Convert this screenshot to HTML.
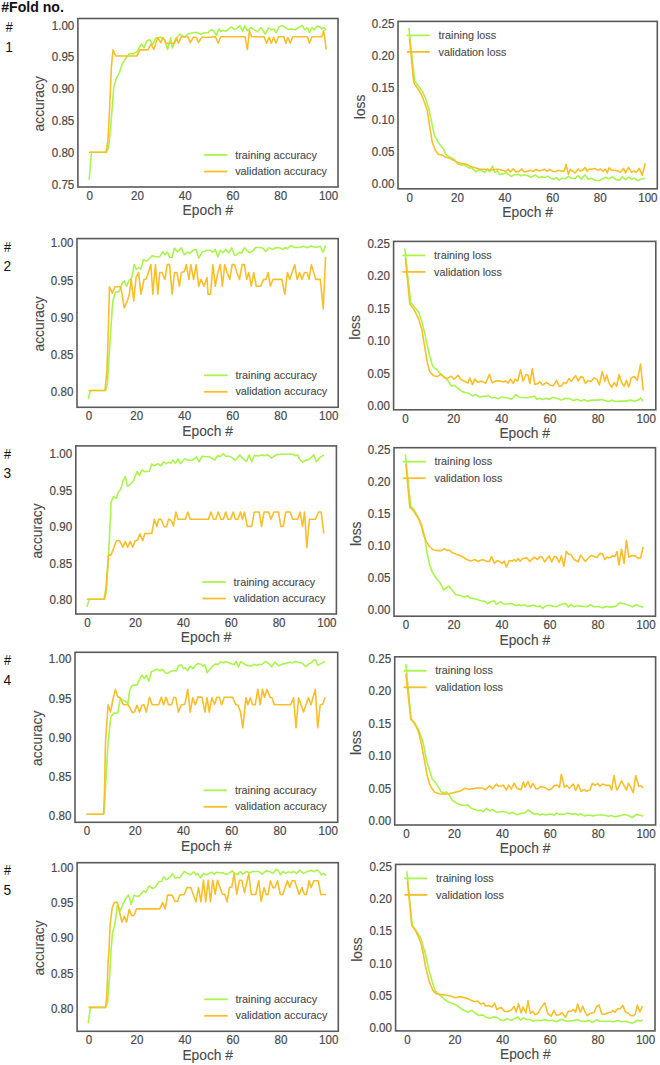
<!DOCTYPE html><html><head><meta charset="utf-8"><style>html,body{margin:0;padding:0;background:#fff;}svg{display:block}</style></head><body>
<svg width="660" height="1065" viewBox="0 0 660 1065" font-family='"Liberation Sans", sans-serif'>
<rect width="660" height="1065" fill="#fff"/>
<text x="1.2" y="11.7" font-size="14.1" font-weight="bold" fill="#111">#Fold no.</text>
<text transform="translate(5.7,32.1) scale(0.86,0.96)" font-size="14.8" fill="#111">#</text>
<text transform="translate(5.3,52.3) scale(0.93,1.05)" font-size="14.8" fill="#111">1</text>
<text transform="translate(4.0,251.6) scale(0.86,0.96)" font-size="14.8" fill="#111">#</text>
<text transform="translate(3.6,271.4) scale(0.93,1.05)" font-size="14.8" fill="#111">2</text>
<text transform="translate(4.0,458.6) scale(0.86,0.96)" font-size="14.8" fill="#111">#</text>
<text transform="translate(3.6,478.4) scale(0.93,1.05)" font-size="14.8" fill="#111">3</text>
<text transform="translate(4.0,665.4) scale(0.86,0.96)" font-size="14.8" fill="#111">#</text>
<text transform="translate(3.6,685.1) scale(0.93,1.05)" font-size="14.8" fill="#111">4</text>
<text transform="translate(4.0,874.5) scale(0.86,0.96)" font-size="14.8" fill="#111">#</text>
<text transform="translate(3.6,894.5) scale(0.93,1.05)" font-size="14.8" fill="#111">5</text>
<clipPath id="cL1"><rect x="77.9" y="18.5" width="260.1" height="168.5"/></clipPath>
<polyline clip-path="url(#cL1)" fill="none" stroke="#a9f54c" stroke-width="1.6" stroke-linejoin="round" points="89.2,179.8 91.4,152.2 106.6,152.2 108.5,147.3 110.5,129.5 111.9,111.8 113.8,87.0 116.4,78.1 119.4,72.8 122.3,63.7 126.3,57.8 129.6,53.5 133.5,53.9 137.1,51.5 141.4,44.0 144.0,47.6 146.9,40.7 149.9,39.7 152.5,45.2 155.8,38.1 160.7,37.3 164.7,39.7 167.6,49.5 170.6,37.7 172.5,48.0 175.5,38.7 180.0,34.2 184.4,37.3 188.3,33.8 195.8,32.2 201.1,34.2 204.1,32.8 208.0,32.8 211.0,29.8 213.9,30.8 216.3,35.4 218.8,28.9 220.8,31.4 223.4,30.2 225.7,31.4 228.7,28.9 231.6,26.9 234.6,29.8 237.5,27.9 239.9,25.5 242.5,31.4 244.8,25.9 247.4,30.8 250.9,27.5 254.3,29.8 257.2,31.8 261.2,27.5 265.1,34.2 268.7,27.9 271.4,29.8 274.0,28.9 276.0,32.8 278.9,26.9 282.5,25.5 285.8,27.9 288.8,29.5 291.7,28.9 294.7,29.8 298.6,27.5 302.2,25.5 304.9,29.8 307.5,27.5 309.4,32.8 312.0,27.5 314.4,29.8 317.3,25.9 319.9,26.9 321.8,28.9 323.8,27.5 326.2,30.2"/>
<polyline clip-path="url(#cL1)" fill="none" stroke="#f9bf2a" stroke-width="1.6" stroke-linejoin="round" points="88.8,152.2 106.0,152.2 107.9,141.4 109.1,119.7 111.5,65.3 113.1,49.9 115.8,56.0 136.7,56.0 140.0,49.9 147.9,49.9 150.9,44.0 153.8,49.5 157.8,37.7 160.7,42.6 163.1,37.7 166.0,43.2 174.5,43.2 176.5,38.1 178.5,43.2 181.4,36.7 187.9,36.7 190.3,42.6 193.2,37.3 196.2,37.3 198.5,42.6 201.7,37.3 208.0,37.3 215.5,36.7 218.2,43.2 220.8,36.7 245.0,36.7 247.4,49.5 249.4,30.8 251.7,36.7 264.1,36.7 266.5,43.2 269.1,37.3 271.4,43.2 273.6,37.3 276.0,43.2 278.5,36.7 283.8,36.7 285.8,43.2 287.8,37.3 290.3,43.2 292.7,36.7 307.5,36.7 309.4,43.2 312.0,36.7 321.8,36.7 323.8,30.8 326.2,49.5"/>
<rect x="77.9" y="18.5" width="260.1" height="168.5" fill="none" stroke="#5a5a5a" stroke-width="1.6"/>
<text transform="translate(74.3,184.6) scale(1,1.1)" y="4.15" font-size="11.6" fill="#4a4a4a" stroke="#4a4a4a" stroke-width="0.2" text-anchor="end">0.75</text>
<text transform="translate(74.3,152.7) scale(1,1.1)" y="4.15" font-size="11.6" fill="#4a4a4a" stroke="#4a4a4a" stroke-width="0.2" text-anchor="end">0.80</text>
<text transform="translate(74.3,120.8) scale(1,1.1)" y="4.15" font-size="11.6" fill="#4a4a4a" stroke="#4a4a4a" stroke-width="0.2" text-anchor="end">0.85</text>
<text transform="translate(74.3,88.8) scale(1,1.1)" y="4.15" font-size="11.6" fill="#4a4a4a" stroke="#4a4a4a" stroke-width="0.2" text-anchor="end">0.90</text>
<text transform="translate(74.3,56.9) scale(1,1.1)" y="4.15" font-size="11.6" fill="#4a4a4a" stroke="#4a4a4a" stroke-width="0.2" text-anchor="end">0.95</text>
<text transform="translate(74.3,25.0) scale(1,1.1)" y="4.15" font-size="11.6" fill="#4a4a4a" stroke="#4a4a4a" stroke-width="0.2" text-anchor="end">1.00</text>
<text transform="translate(89.7,195.3) scale(1,1.1)" y="4.15" font-size="11.6" fill="#4a4a4a" stroke="#4a4a4a" stroke-width="0.2" text-anchor="middle">0</text>
<text transform="translate(137.5,195.3) scale(1,1.1)" y="4.15" font-size="11.6" fill="#4a4a4a" stroke="#4a4a4a" stroke-width="0.2" text-anchor="middle">20</text>
<text transform="translate(185.3,195.3) scale(1,1.1)" y="4.15" font-size="11.6" fill="#4a4a4a" stroke="#4a4a4a" stroke-width="0.2" text-anchor="middle">40</text>
<text transform="translate(233.0,195.3) scale(1,1.1)" y="4.15" font-size="11.6" fill="#4a4a4a" stroke="#4a4a4a" stroke-width="0.2" text-anchor="middle">60</text>
<text transform="translate(280.8,195.3) scale(1,1.1)" y="4.15" font-size="11.6" fill="#4a4a4a" stroke="#4a4a4a" stroke-width="0.2" text-anchor="middle">80</text>
<text transform="translate(328.6,195.3) scale(1,1.1)" y="4.15" font-size="11.6" fill="#4a4a4a" stroke="#4a4a4a" stroke-width="0.2" text-anchor="middle">100</text>
<text x="207.9" y="215.4" font-size="13.8" fill="#4a4a4a" stroke="#4a4a4a" stroke-width="0.12" text-anchor="middle">Epoch #</text>
<text transform="translate(44.4,103.8) rotate(-90)" font-size="13.8" fill="#4a4a4a" stroke="#4a4a4a" stroke-width="0.12" text-anchor="middle">accuracy</text>
<line x1="203.9" y1="155.0" x2="227.4" y2="155.0" stroke="#a9f54c" stroke-width="1.8"/>
<line x1="203.9" y1="171.5" x2="227.4" y2="171.5" stroke="#f9bf2a" stroke-width="1.8"/>
<text x="235.2" y="158.6" font-size="10.8" fill="#4a4a4a" stroke="#4a4a4a" stroke-width="0.12">training accuracy</text>
<text x="235.2" y="175.1" font-size="10.8" fill="#4a4a4a" stroke="#4a4a4a" stroke-width="0.12">validation accuracy</text>
<clipPath id="cR1"><rect x="398.0" y="21.4" width="259.29999999999995" height="167.4"/></clipPath>
<polyline clip-path="url(#cR1)" fill="none" stroke="#a9f54c" stroke-width="1.6" stroke-linejoin="round" points="408.8,27.9 414.7,81.1 417.7,85.0 422.6,91.9 425.6,98.8 429.1,110.0 431.5,121.7 434.4,135.4 437.4,140.4 440.3,145.3 442.9,148.2 445.7,154.2 448.2,156.1 452.2,158.1 455.1,160.1 457.1,163.4 461.0,165.0 465.0,165.0 468.9,167.9 471.9,167.9 475.8,171.9 478.8,169.9 481.7,170.5 484.7,172.5 487.6,168.9 489.6,171.9 492.5,166.0 494.9,172.5 497.5,170.9 499.4,174.4 503.4,173.9 506.3,172.5 508.3,174.4 511.3,176.4 514.2,174.8 518.2,174.4 521.1,175.8 524.1,174.8 528.0,175.8 531.0,177.2 535.5,174.9 538.8,177.6 541.8,176.8 544.7,177.6 547.7,176.2 550.7,178.2 553.6,179.2 556.6,177.6 559.1,180.2 561.9,178.2 565.4,178.8 568.4,176.2 571.3,178.2 575.3,178.2 578.2,175.6 581.2,179.2 585.1,174.9 588.1,179.2 591.0,178.2 595.0,180.2 598.9,180.8 601.9,179.2 605.8,177.2 608.8,178.8 612.7,176.8 615.7,179.6 619.6,180.2 622.5,176.8 625.5,179.6 628.5,177.2 631.4,179.2 634.4,178.2 637.3,180.8 641.3,179.2 645.2,178.2"/>
<polyline clip-path="url(#cR1)" fill="none" stroke="#f9bf2a" stroke-width="1.6" stroke-linejoin="round" points="409.4,37.7 413.8,82.6 416.7,87.0 421.6,94.8 424.6,102.7 427.2,110.0 429.5,125.6 432.5,143.3 435.4,150.2 438.4,154.2 442.3,155.1 445.3,157.1 449.2,158.1 453.2,160.1 457.1,162.0 461.0,163.4 466.0,164.0 470.9,166.6 475.8,167.9 479.7,169.3 484.7,169.3 488.6,169.9 492.5,169.9 496.5,169.3 501.4,169.9 505.3,171.3 508.3,169.3 510.3,171.9 513.2,168.9 516.2,171.9 519.1,171.3 521.7,168.9 524.1,171.9 528.0,170.9 531.0,170.3 532.9,171.7 535.9,169.3 538.8,170.9 541.8,170.3 544.7,169.3 546.7,171.3 549.7,169.3 552.6,171.3 555.6,171.7 558.5,170.3 561.5,171.3 564.4,170.9 566.0,164.4 568.4,174.3 570.3,169.3 572.9,171.3 575.3,172.9 578.2,169.0 580.2,170.9 582.8,170.3 585.1,167.4 587.1,171.3 589.1,169.0 592.0,169.3 595.0,168.4 597.9,170.3 600.5,169.0 602.8,171.3 605.2,169.0 607.2,172.9 609.2,167.8 611.7,170.3 614.7,170.3 617.6,170.9 620.6,172.3 623.5,168.4 625.5,172.9 628.5,167.4 631.4,172.3 634.0,170.9 636.3,172.3 639.3,168.4 642.2,175.2 645.2,163.4"/>
<rect x="398.0" y="21.4" width="259.3" height="167.4" fill="none" stroke="#5a5a5a" stroke-width="1.6"/>
<text transform="translate(394.4,183.2) scale(1,1.1)" y="4.15" font-size="11.6" fill="#4a4a4a" stroke="#4a4a4a" stroke-width="0.2" text-anchor="end">0.00</text>
<text transform="translate(394.4,151.3) scale(1,1.1)" y="4.15" font-size="11.6" fill="#4a4a4a" stroke="#4a4a4a" stroke-width="0.2" text-anchor="end">0.05</text>
<text transform="translate(394.4,119.4) scale(1,1.1)" y="4.15" font-size="11.6" fill="#4a4a4a" stroke="#4a4a4a" stroke-width="0.2" text-anchor="end">0.10</text>
<text transform="translate(394.4,87.5) scale(1,1.1)" y="4.15" font-size="11.6" fill="#4a4a4a" stroke="#4a4a4a" stroke-width="0.2" text-anchor="end">0.15</text>
<text transform="translate(394.4,55.6) scale(1,1.1)" y="4.15" font-size="11.6" fill="#4a4a4a" stroke="#4a4a4a" stroke-width="0.2" text-anchor="end">0.20</text>
<text transform="translate(394.4,23.8) scale(1,1.1)" y="4.15" font-size="11.6" fill="#4a4a4a" stroke="#4a4a4a" stroke-width="0.2" text-anchor="end">0.25</text>
<text transform="translate(409.8,197.1) scale(1,1.1)" y="4.15" font-size="11.6" fill="#4a4a4a" stroke="#4a4a4a" stroke-width="0.2" text-anchor="middle">0</text>
<text transform="translate(457.4,197.1) scale(1,1.1)" y="4.15" font-size="11.6" fill="#4a4a4a" stroke="#4a4a4a" stroke-width="0.2" text-anchor="middle">20</text>
<text transform="translate(505.0,197.1) scale(1,1.1)" y="4.15" font-size="11.6" fill="#4a4a4a" stroke="#4a4a4a" stroke-width="0.2" text-anchor="middle">40</text>
<text transform="translate(552.7,197.1) scale(1,1.1)" y="4.15" font-size="11.6" fill="#4a4a4a" stroke="#4a4a4a" stroke-width="0.2" text-anchor="middle">60</text>
<text transform="translate(600.3,197.1) scale(1,1.1)" y="4.15" font-size="11.6" fill="#4a4a4a" stroke="#4a4a4a" stroke-width="0.2" text-anchor="middle">80</text>
<text transform="translate(647.9,197.1) scale(1,1.1)" y="4.15" font-size="11.6" fill="#4a4a4a" stroke="#4a4a4a" stroke-width="0.2" text-anchor="middle">100</text>
<text x="527.6" y="217.2" font-size="13.8" fill="#4a4a4a" stroke="#4a4a4a" stroke-width="0.12" text-anchor="middle">Epoch #</text>
<text transform="translate(364.5,106.9) rotate(-90)" font-size="13.8" fill="#4a4a4a" stroke="#4a4a4a" stroke-width="0.12" text-anchor="middle">loss</text>
<line x1="406.8" y1="35.4" x2="429.8" y2="35.4" stroke="#a9f54c" stroke-width="1.8"/>
<line x1="406.8" y1="51.9" x2="429.8" y2="51.9" stroke="#f9bf2a" stroke-width="1.8"/>
<text x="438.5" y="39.0" font-size="10.8" fill="#4a4a4a" stroke="#4a4a4a" stroke-width="0.12">training loss</text>
<text x="438.5" y="55.5" font-size="10.8" fill="#4a4a4a" stroke="#4a4a4a" stroke-width="0.12">validation loss</text>
<clipPath id="cL2"><rect x="77.0" y="238.6" width="261.2" height="168.70000000000002"/></clipPath>
<polyline clip-path="url(#cL2)" fill="none" stroke="#a9f54c" stroke-width="1.6" stroke-linejoin="round" points="88.2,399.1 90.4,390.5 105.6,390.5 107.5,383.0 109.5,349.5 110.9,327.8 112.8,301.0 115.4,292.2 119.3,291.6 122.3,283.3 124.3,280.9 126.6,286.2 129.2,280.3 131.8,277.4 134.1,264.6 136.5,269.5 139.0,267.5 141.0,269.1 143.4,259.3 146.3,261.2 148.3,259.7 152.2,255.7 155.8,256.7 159.7,256.7 162.7,251.8 165.0,254.7 167.6,252.2 169.6,257.3 172.1,257.3 174.5,248.2 177.5,251.8 181.4,247.8 184.3,254.7 187.3,252.2 189.7,253.4 193.2,250.2 196.2,249.4 198.7,258.1 202.1,252.2 207.0,250.2 210.0,250.2 212.9,252.2 215.3,249.4 217.8,256.7 220.4,250.2 222.8,252.8 225.7,249.4 228.7,252.8 231.6,247.8 234.6,255.3 236.9,254.7 239.5,252.2 241.5,253.4 244.4,247.8 246.4,249.8 249.3,252.8 252.3,251.4 255.8,247.5 260.2,247.5 263.1,248.2 265.7,251.4 269.0,247.8 273.0,249.4 275.9,247.5 279.5,247.8 282.8,249.4 285.4,247.5 287.4,248.8 290.7,245.5 294.7,247.5 299.6,247.5 303.5,246.3 307.5,247.8 311.4,245.9 315.3,247.5 320.3,246.3 323.2,252.2 325.6,245.5"/>
<polyline clip-path="url(#cL2)" fill="none" stroke="#f9bf2a" stroke-width="1.6" stroke-linejoin="round" points="88.4,390.5 105.0,390.5 106.9,371.2 108.1,337.7 109.5,286.8 112.5,293.1 114.8,286.8 120.7,286.8 124.3,307.9 127.2,301.0 129.2,295.1 131.2,279.4 133.7,301.0 136.1,277.4 138.5,272.5 141.0,294.1 144.0,279.4 146.3,279.0 150.9,264.6 152.8,294.1 155.4,264.6 157.8,294.1 159.7,272.5 162.1,272.5 165.0,279.4 167.2,264.6 169.6,264.6 172.1,294.1 174.5,272.5 176.9,272.5 179.4,286.2 181.4,272.5 184.3,271.5 186.3,264.6 188.9,279.4 190.8,264.6 193.6,279.4 196.2,264.6 198.7,286.2 201.1,279.4 204.0,286.2 207.0,277.4 208.0,294.1 210.5,294.1 212.9,264.6 215.3,286.2 217.8,272.5 220.2,264.6 222.4,286.2 224.7,264.6 227.1,272.5 229.7,279.4 232.2,264.6 234.6,264.6 236.9,272.5 239.5,279.4 242.1,264.6 244.4,264.6 246.8,279.4 248.8,272.5 251.3,286.2 253.7,272.5 256.2,286.2 260.6,286.2 263.7,279.4 266.1,279.4 268.1,272.5 270.4,286.2 273.0,279.4 281.8,279.4 284.8,294.1 287.4,272.5 289.7,279.4 294.7,264.6 297.2,279.4 299.6,272.5 301.9,279.4 304.5,272.5 307.1,272.5 309.0,279.4 311.4,264.6 315.7,279.4 320.3,279.4 323.2,308.9 325.6,256.7"/>
<rect x="77.0" y="238.6" width="261.2" height="168.7" fill="none" stroke="#5a5a5a" stroke-width="1.6"/>
<text transform="translate(73.4,391.2) scale(1,1.1)" y="4.15" font-size="11.6" fill="#4a4a4a" stroke="#4a4a4a" stroke-width="0.2" text-anchor="end">0.80</text>
<text transform="translate(73.4,354.1) scale(1,1.1)" y="4.15" font-size="11.6" fill="#4a4a4a" stroke="#4a4a4a" stroke-width="0.2" text-anchor="end">0.85</text>
<text transform="translate(73.4,317.1) scale(1,1.1)" y="4.15" font-size="11.6" fill="#4a4a4a" stroke="#4a4a4a" stroke-width="0.2" text-anchor="end">0.90</text>
<text transform="translate(73.4,280.0) scale(1,1.1)" y="4.15" font-size="11.6" fill="#4a4a4a" stroke="#4a4a4a" stroke-width="0.2" text-anchor="end">0.95</text>
<text transform="translate(73.4,242.9) scale(1,1.1)" y="4.15" font-size="11.6" fill="#4a4a4a" stroke="#4a4a4a" stroke-width="0.2" text-anchor="end">1.00</text>
<text transform="translate(88.9,415.6) scale(1,1.1)" y="4.15" font-size="11.6" fill="#4a4a4a" stroke="#4a4a4a" stroke-width="0.2" text-anchor="middle">0</text>
<text transform="translate(136.8,415.6) scale(1,1.1)" y="4.15" font-size="11.6" fill="#4a4a4a" stroke="#4a4a4a" stroke-width="0.2" text-anchor="middle">20</text>
<text transform="translate(184.8,415.6) scale(1,1.1)" y="4.15" font-size="11.6" fill="#4a4a4a" stroke="#4a4a4a" stroke-width="0.2" text-anchor="middle">40</text>
<text transform="translate(232.8,415.6) scale(1,1.1)" y="4.15" font-size="11.6" fill="#4a4a4a" stroke="#4a4a4a" stroke-width="0.2" text-anchor="middle">60</text>
<text transform="translate(280.8,415.6) scale(1,1.1)" y="4.15" font-size="11.6" fill="#4a4a4a" stroke="#4a4a4a" stroke-width="0.2" text-anchor="middle">80</text>
<text transform="translate(328.7,415.6) scale(1,1.1)" y="4.15" font-size="11.6" fill="#4a4a4a" stroke="#4a4a4a" stroke-width="0.2" text-anchor="middle">100</text>
<text x="207.6" y="435.7" font-size="13.8" fill="#4a4a4a" stroke="#4a4a4a" stroke-width="0.12" text-anchor="middle">Epoch #</text>
<text transform="translate(43.5,323.9) rotate(-90)" font-size="13.8" fill="#4a4a4a" stroke="#4a4a4a" stroke-width="0.12" text-anchor="middle">accuracy</text>
<line x1="204.1" y1="375.3" x2="227.6" y2="375.3" stroke="#a9f54c" stroke-width="1.8"/>
<line x1="204.1" y1="391.8" x2="227.6" y2="391.8" stroke="#f9bf2a" stroke-width="1.8"/>
<text x="235.4" y="378.9" font-size="10.8" fill="#4a4a4a" stroke="#4a4a4a" stroke-width="0.12">training accuracy</text>
<text x="235.4" y="395.4" font-size="10.8" fill="#4a4a4a" stroke="#4a4a4a" stroke-width="0.12">validation accuracy</text>
<clipPath id="cR2"><rect x="393.6" y="241.4" width="262.19999999999993" height="168.4"/></clipPath>
<polyline clip-path="url(#cR2)" fill="none" stroke="#a9f54c" stroke-width="1.6" stroke-linejoin="round" points="404.8,248.3 410.7,302.6 413.7,306.0 418.6,311.9 421.6,320.7 423.9,330.1 426.5,341.7 429.5,355.5 432.4,365.3 434.4,368.3 436.3,368.9 438.9,372.2 442.3,375.2 445.6,378.1 448.2,381.1 451.1,386.0 454.1,385.4 457.0,387.4 461.0,390.9 464.9,392.5 468.8,393.3 472.8,395.9 475.7,394.5 479.7,397.2 482.6,396.4 485.6,396.4 488.2,395.3 491.5,397.8 495.4,397.8 498.4,398.8 501.3,396.8 504.3,397.8 507.3,397.8 511.2,399.2 513.2,397.8 515.7,394.5 519.1,397.2 524.0,397.8 527.9,397.6 531.9,396.8 534.8,396.2 536.8,399.2 539.8,398.2 542.7,399.5 546.7,398.2 549.2,399.5 552.6,397.2 556.5,398.2 561.4,400.1 565.4,398.2 570.3,398.8 573.2,400.7 577.2,399.2 581.1,401.1 584.1,399.5 587.0,401.1 592.0,400.1 597.9,400.1 601.8,399.5 605.7,400.7 609.1,401.5 611.7,400.1 615.6,401.5 620.5,401.1 625.4,401.1 630.4,400.1 635.3,401.1 638.2,400.1 640.6,398.2 643.2,401.1"/>
<polyline clip-path="url(#cR2)" fill="none" stroke="#f9bf2a" stroke-width="1.6" stroke-linejoin="round" points="405.4,257.7 409.8,304.0 413.7,308.9 418.6,318.8 422.0,330.1 424.5,345.6 427.1,361.4 429.5,371.2 433.4,375.6 437.3,376.7 440.9,374.2 444.2,377.5 447.2,378.7 451.1,376.2 454.1,379.1 458.0,375.2 461.0,379.5 464.9,381.5 467.9,383.1 469.8,378.1 472.4,384.6 474.8,379.1 477.7,382.1 481.7,381.1 485.6,383.4 489.5,374.2 492.1,382.7 496.4,380.7 500.4,381.1 503.3,382.1 505.9,381.1 508.2,383.1 510.6,379.1 513.2,383.4 515.1,379.1 517.7,381.1 520.5,369.7 523.0,381.1 526.0,374.5 527.9,375.1 529.9,383.4 532.3,368.6 534.8,384.4 537.4,383.8 539.8,381.8 542.7,385.0 546.7,382.4 549.6,385.0 553.5,385.7 556.5,380.4 559.1,386.3 561.4,386.3 563.8,382.4 566.3,383.4 568.9,378.5 571.3,381.4 575.6,375.5 578.2,381.0 580.7,376.5 583.1,377.5 585.5,383.4 588.0,380.4 591.0,381.8 593.9,377.9 596.9,379.4 599.4,385.0 602.2,371.5 604.8,381.4 606.7,375.1 609.1,383.4 611.7,387.3 614.2,382.4 616.6,386.3 619.1,374.5 621.5,382.4 624.1,386.3 626.4,380.4 628.8,386.9 631.3,377.9 634.3,376.5 637.3,380.4 640.6,364.1 643.2,390.3"/>
<rect x="393.6" y="241.4" width="262.2" height="168.4" fill="none" stroke="#5a5a5a" stroke-width="1.6"/>
<text transform="translate(390.0,405.9) scale(1,1.1)" y="4.15" font-size="11.6" fill="#4a4a4a" stroke="#4a4a4a" stroke-width="0.2" text-anchor="end">0.00</text>
<text transform="translate(390.0,373.4) scale(1,1.1)" y="4.15" font-size="11.6" fill="#4a4a4a" stroke="#4a4a4a" stroke-width="0.2" text-anchor="end">0.05</text>
<text transform="translate(390.0,340.9) scale(1,1.1)" y="4.15" font-size="11.6" fill="#4a4a4a" stroke="#4a4a4a" stroke-width="0.2" text-anchor="end">0.10</text>
<text transform="translate(390.0,308.4) scale(1,1.1)" y="4.15" font-size="11.6" fill="#4a4a4a" stroke="#4a4a4a" stroke-width="0.2" text-anchor="end">0.15</text>
<text transform="translate(390.0,275.9) scale(1,1.1)" y="4.15" font-size="11.6" fill="#4a4a4a" stroke="#4a4a4a" stroke-width="0.2" text-anchor="end">0.20</text>
<text transform="translate(390.0,243.4) scale(1,1.1)" y="4.15" font-size="11.6" fill="#4a4a4a" stroke="#4a4a4a" stroke-width="0.2" text-anchor="end">0.25</text>
<text transform="translate(405.5,418.1) scale(1,1.1)" y="4.15" font-size="11.6" fill="#4a4a4a" stroke="#4a4a4a" stroke-width="0.2" text-anchor="middle">0</text>
<text transform="translate(453.7,418.1) scale(1,1.1)" y="4.15" font-size="11.6" fill="#4a4a4a" stroke="#4a4a4a" stroke-width="0.2" text-anchor="middle">20</text>
<text transform="translate(501.8,418.1) scale(1,1.1)" y="4.15" font-size="11.6" fill="#4a4a4a" stroke="#4a4a4a" stroke-width="0.2" text-anchor="middle">40</text>
<text transform="translate(550.0,418.1) scale(1,1.1)" y="4.15" font-size="11.6" fill="#4a4a4a" stroke="#4a4a4a" stroke-width="0.2" text-anchor="middle">60</text>
<text transform="translate(598.1,418.1) scale(1,1.1)" y="4.15" font-size="11.6" fill="#4a4a4a" stroke="#4a4a4a" stroke-width="0.2" text-anchor="middle">80</text>
<text transform="translate(646.3,418.1) scale(1,1.1)" y="4.15" font-size="11.6" fill="#4a4a4a" stroke="#4a4a4a" stroke-width="0.2" text-anchor="middle">100</text>
<text x="524.7" y="438.2" font-size="13.8" fill="#4a4a4a" stroke="#4a4a4a" stroke-width="0.12" text-anchor="middle">Epoch #</text>
<text transform="translate(360.1,327.4) rotate(-90)" font-size="13.8" fill="#4a4a4a" stroke="#4a4a4a" stroke-width="0.12" text-anchor="middle">loss</text>
<line x1="402.4" y1="255.4" x2="425.4" y2="255.4" stroke="#a9f54c" stroke-width="1.8"/>
<line x1="402.4" y1="271.9" x2="425.4" y2="271.9" stroke="#f9bf2a" stroke-width="1.8"/>
<text x="434.1" y="259.0" font-size="10.8" fill="#4a4a4a" stroke="#4a4a4a" stroke-width="0.12">training loss</text>
<text x="434.1" y="275.5" font-size="10.8" fill="#4a4a4a" stroke="#4a4a4a" stroke-width="0.12">validation loss</text>
<clipPath id="cL3"><rect x="75.8" y="445.9" width="260.59999999999997" height="168.10000000000002"/></clipPath>
<polyline clip-path="url(#cL3)" fill="none" stroke="#a9f54c" stroke-width="1.6" stroke-linejoin="round" points="86.8,606.7 89.4,599.3 104.6,599.3 106.5,591.0 107.9,565.4 109.5,535.8 111.1,502.1 113.4,496.8 116.4,498.2 118.3,492.3 120.9,488.9 122.9,481.4 125.2,476.5 127.6,486.4 130.8,483.8 133.5,480.5 137.1,471.6 139.4,475.5 142.0,470.0 144.9,471.6 149.3,471.2 151.8,464.1 154.4,465.7 157.7,463.7 161.1,465.7 163.7,461.8 166.2,463.7 168.6,462.1 170.5,463.3 172.9,460.2 175.5,463.3 178.0,458.8 180.4,463.7 184.7,458.8 188.3,460.2 192.6,460.2 196.5,456.8 199.1,461.8 202.1,456.2 206.0,456.8 209.0,456.8 211.9,458.2 214.9,460.2 217.8,455.5 220.2,456.8 223.3,453.5 225.7,456.2 229.6,456.2 232.6,458.2 235.2,460.2 239.9,454.9 242.4,458.2 246.4,461.4 249.3,454.9 251.7,461.8 254.3,455.5 259.2,455.8 262.1,454.9 264.1,455.8 268.0,454.9 271.4,458.2 275.9,454.9 279.9,454.3 284.8,454.3 292.7,454.3 295.6,455.8 297.6,454.9 300.2,460.2 302.5,462.1 305.5,460.2 309.4,459.4 313.9,454.9 316.3,461.8 320.2,457.4 323.8,454.9"/>
<polyline clip-path="url(#cL3)" fill="none" stroke="#f9bf2a" stroke-width="1.6" stroke-linejoin="round" points="86.8,599.3 104.0,599.3 105.9,589.0 108.5,555.1 111.1,555.1 113.8,547.7 116.4,540.8 119.7,540.8 122.9,547.3 125.2,541.4 127.6,547.3 130.2,541.4 132.7,547.3 135.1,540.8 137.5,540.2 140.0,533.9 142.6,540.8 144.9,533.5 151.8,533.5 154.4,519.3 156.8,526.7 158.7,519.3 161.1,519.3 164.2,526.7 166.6,526.7 168.6,519.3 170.9,519.9 173.5,525.8 175.9,512.0 178.0,519.3 185.3,519.3 187.9,512.0 190.2,519.3 206.0,519.3 208.4,519.3 210.9,512.0 213.5,519.3 215.8,519.3 218.2,512.0 220.8,519.3 223.3,519.3 225.7,512.0 228.1,519.3 230.6,519.3 233.2,512.0 235.5,519.3 237.9,519.3 240.5,512.0 242.4,519.3 244.4,512.0 247.4,526.4 251.7,526.4 254.3,512.0 259.2,512.0 261.5,526.4 264.1,512.0 268.6,512.0 271.0,519.3 274.0,512.0 278.5,512.0 280.8,526.4 283.2,526.4 285.8,512.0 290.3,512.0 292.7,519.3 297.6,519.3 300.2,512.0 302.5,526.4 304.5,512.0 306.8,547.8 309.4,519.3 315.3,519.3 318.7,512.0 321.2,512.0 323.8,533.6"/>
<rect x="75.8" y="445.9" width="260.6" height="168.1" fill="none" stroke="#5a5a5a" stroke-width="1.6"/>
<text transform="translate(72.2,599.8) scale(1,1.1)" y="4.15" font-size="11.6" fill="#4a4a4a" stroke="#4a4a4a" stroke-width="0.2" text-anchor="end">0.80</text>
<text transform="translate(72.2,563.3) scale(1,1.1)" y="4.15" font-size="11.6" fill="#4a4a4a" stroke="#4a4a4a" stroke-width="0.2" text-anchor="end">0.85</text>
<text transform="translate(72.2,526.8) scale(1,1.1)" y="4.15" font-size="11.6" fill="#4a4a4a" stroke="#4a4a4a" stroke-width="0.2" text-anchor="end">0.90</text>
<text transform="translate(72.2,490.4) scale(1,1.1)" y="4.15" font-size="11.6" fill="#4a4a4a" stroke="#4a4a4a" stroke-width="0.2" text-anchor="end">0.95</text>
<text transform="translate(72.2,453.9) scale(1,1.1)" y="4.15" font-size="11.6" fill="#4a4a4a" stroke="#4a4a4a" stroke-width="0.2" text-anchor="end">1.00</text>
<text transform="translate(87.6,622.3) scale(1,1.1)" y="4.15" font-size="11.6" fill="#4a4a4a" stroke="#4a4a4a" stroke-width="0.2" text-anchor="middle">0</text>
<text transform="translate(135.5,622.3) scale(1,1.1)" y="4.15" font-size="11.6" fill="#4a4a4a" stroke="#4a4a4a" stroke-width="0.2" text-anchor="middle">20</text>
<text transform="translate(183.4,622.3) scale(1,1.1)" y="4.15" font-size="11.6" fill="#4a4a4a" stroke="#4a4a4a" stroke-width="0.2" text-anchor="middle">40</text>
<text transform="translate(231.2,622.3) scale(1,1.1)" y="4.15" font-size="11.6" fill="#4a4a4a" stroke="#4a4a4a" stroke-width="0.2" text-anchor="middle">60</text>
<text transform="translate(279.1,622.3) scale(1,1.1)" y="4.15" font-size="11.6" fill="#4a4a4a" stroke="#4a4a4a" stroke-width="0.2" text-anchor="middle">80</text>
<text transform="translate(326.9,622.3) scale(1,1.1)" y="4.15" font-size="11.6" fill="#4a4a4a" stroke="#4a4a4a" stroke-width="0.2" text-anchor="middle">100</text>
<text x="206.1" y="642.4" font-size="13.8" fill="#4a4a4a" stroke="#4a4a4a" stroke-width="0.12" text-anchor="middle">Epoch #</text>
<text transform="translate(42.3,531.0) rotate(-90)" font-size="13.8" fill="#4a4a4a" stroke="#4a4a4a" stroke-width="0.12" text-anchor="middle">accuracy</text>
<line x1="202.3" y1="582.0" x2="225.8" y2="582.0" stroke="#a9f54c" stroke-width="1.8"/>
<line x1="202.3" y1="598.5" x2="225.8" y2="598.5" stroke="#f9bf2a" stroke-width="1.8"/>
<text x="233.6" y="585.6" font-size="10.8" fill="#4a4a4a" stroke="#4a4a4a" stroke-width="0.12">training accuracy</text>
<text x="233.6" y="602.1" font-size="10.8" fill="#4a4a4a" stroke="#4a4a4a" stroke-width="0.12">validation accuracy</text>
<clipPath id="cR3"><rect x="394.0" y="447.7" width="261.5" height="168.50000000000006"/></clipPath>
<polyline clip-path="url(#cR3)" fill="none" stroke="#a9f54c" stroke-width="1.6" stroke-linejoin="round" points="405.4,454.3 410.7,506.1 413.7,509.4 418.6,517.9 421.6,524.8 424.5,536.0 426.5,549.6 429.5,564.4 432.4,572.3 436.3,578.2 440.3,583.1 443.6,590.0 446.2,588.0 448.8,586.1 452.1,590.0 456.0,594.9 460.0,595.3 463.9,596.9 467.9,595.9 469.8,597.9 472.8,598.5 476.7,599.3 480.7,600.8 484.6,601.2 487.6,603.8 490.9,601.8 494.1,600.8 496.4,604.4 500.4,601.8 504.3,604.4 508.2,603.8 512.2,603.8 516.1,605.8 519.1,604.4 521.0,605.8 524.0,604.8 527.9,606.4 533.8,605.2 537.8,606.7 539.8,605.8 542.7,608.3 545.7,605.8 550.6,605.2 553.5,606.4 556.5,606.7 560.4,604.8 565.4,603.2 568.3,607.1 571.3,604.4 573.6,606.7 577.2,605.8 583.1,606.4 587.0,606.7 590.6,604.8 593.9,606.7 598.8,606.7 602.8,607.7 605.7,606.4 610.7,607.1 615.6,606.4 619.5,602.8 623.5,603.8 627.4,604.8 632.3,606.7 636.3,604.8 640.2,606.4 643.2,607.1"/>
<polyline clip-path="url(#cR3)" fill="none" stroke="#f9bf2a" stroke-width="1.6" stroke-linejoin="round" points="405.8,463.7 409.8,507.1 413.7,511.0 418.6,518.9 421.6,526.7 423.9,536.0 426.5,541.8 429.5,546.7 433.4,550.0 438.3,550.6 441.3,550.6 444.2,548.6 447.2,550.6 449.2,550.0 452.1,552.6 457.0,554.6 462.0,556.5 466.9,559.5 470.8,561.1 474.8,559.5 477.7,561.4 482.6,559.5 486.6,561.4 489.5,561.4 491.5,556.5 494.5,563.4 497.4,560.5 499.4,561.4 502.3,563.4 504.3,561.1 506.3,567.0 509.2,560.5 512.2,561.1 514.2,559.5 516.1,561.1 518.1,558.5 520.1,561.1 523.0,558.5 527.0,557.9 529.9,561.4 534.2,557.1 537.4,559.5 539.8,556.5 542.1,557.1 544.7,561.8 549.2,555.9 551.6,561.8 554.5,556.5 556.5,557.1 559.1,562.4 561.4,555.9 563.8,566.4 566.3,551.2 568.3,554.0 570.9,554.6 574.2,559.5 578.2,561.8 580.7,555.1 585.1,561.4 588.0,558.5 591.0,555.5 593.9,556.5 596.9,557.5 599.8,553.6 602.4,553.6 604.8,559.5 607.1,557.1 609.7,557.9 612.2,555.9 615.0,556.5 617.0,551.6 618.9,565.0 621.5,549.2 624.1,563.4 626.4,540.2 628.8,557.1 632.3,555.5 635.3,555.9 638.2,558.5 640.6,557.9 643.2,546.7"/>
<rect x="394.0" y="447.7" width="261.5" height="168.5" fill="none" stroke="#5a5a5a" stroke-width="1.6"/>
<text transform="translate(390.4,609.6) scale(1,1.1)" y="4.15" font-size="11.6" fill="#4a4a4a" stroke="#4a4a4a" stroke-width="0.2" text-anchor="end">0.00</text>
<text transform="translate(390.4,577.6) scale(1,1.1)" y="4.15" font-size="11.6" fill="#4a4a4a" stroke="#4a4a4a" stroke-width="0.2" text-anchor="end">0.05</text>
<text transform="translate(390.4,545.7) scale(1,1.1)" y="4.15" font-size="11.6" fill="#4a4a4a" stroke="#4a4a4a" stroke-width="0.2" text-anchor="end">0.10</text>
<text transform="translate(390.4,513.7) scale(1,1.1)" y="4.15" font-size="11.6" fill="#4a4a4a" stroke="#4a4a4a" stroke-width="0.2" text-anchor="end">0.15</text>
<text transform="translate(390.4,481.8) scale(1,1.1)" y="4.15" font-size="11.6" fill="#4a4a4a" stroke="#4a4a4a" stroke-width="0.2" text-anchor="end">0.20</text>
<text transform="translate(390.4,449.8) scale(1,1.1)" y="4.15" font-size="11.6" fill="#4a4a4a" stroke="#4a4a4a" stroke-width="0.2" text-anchor="end">0.25</text>
<text transform="translate(405.9,624.5) scale(1,1.1)" y="4.15" font-size="11.6" fill="#4a4a4a" stroke="#4a4a4a" stroke-width="0.2" text-anchor="middle">0</text>
<text transform="translate(453.9,624.5) scale(1,1.1)" y="4.15" font-size="11.6" fill="#4a4a4a" stroke="#4a4a4a" stroke-width="0.2" text-anchor="middle">20</text>
<text transform="translate(501.9,624.5) scale(1,1.1)" y="4.15" font-size="11.6" fill="#4a4a4a" stroke="#4a4a4a" stroke-width="0.2" text-anchor="middle">40</text>
<text transform="translate(550.0,624.5) scale(1,1.1)" y="4.15" font-size="11.6" fill="#4a4a4a" stroke="#4a4a4a" stroke-width="0.2" text-anchor="middle">60</text>
<text transform="translate(598.0,624.5) scale(1,1.1)" y="4.15" font-size="11.6" fill="#4a4a4a" stroke="#4a4a4a" stroke-width="0.2" text-anchor="middle">80</text>
<text transform="translate(646.0,624.5) scale(1,1.1)" y="4.15" font-size="11.6" fill="#4a4a4a" stroke="#4a4a4a" stroke-width="0.2" text-anchor="middle">100</text>
<text x="524.8" y="644.6" font-size="13.8" fill="#4a4a4a" stroke="#4a4a4a" stroke-width="0.12" text-anchor="middle">Epoch #</text>
<text transform="translate(360.5,533.8) rotate(-90)" font-size="13.8" fill="#4a4a4a" stroke="#4a4a4a" stroke-width="0.12" text-anchor="middle">loss</text>
<line x1="402.8" y1="461.7" x2="425.8" y2="461.7" stroke="#a9f54c" stroke-width="1.8"/>
<line x1="402.8" y1="478.2" x2="425.8" y2="478.2" stroke="#f9bf2a" stroke-width="1.8"/>
<text x="434.5" y="465.3" font-size="10.8" fill="#4a4a4a" stroke="#4a4a4a" stroke-width="0.12">training loss</text>
<text x="434.5" y="481.8" font-size="10.8" fill="#4a4a4a" stroke="#4a4a4a" stroke-width="0.12">validation loss</text>
<clipPath id="cL4"><rect x="75.0" y="652.3" width="262.7" height="170.0"/></clipPath>
<polyline clip-path="url(#cL4)" fill="none" stroke="#a9f54c" stroke-width="1.6" stroke-linejoin="round" points="86.4,814.3 103.6,814.3 104.5,806.8 106.9,761.5 108.1,741.8 110.8,717.0 114.0,713.1 117.9,712.7 120.3,698.3 122.7,700.2 125.8,701.6 127.8,703.6 129.8,689.8 132.5,685.1 137.0,685.1 140.0,678.6 142.0,675.2 144.3,678.6 146.3,675.2 148.9,681.1 151.4,671.7 153.8,670.7 156.7,669.3 159.7,670.7 162.7,669.3 165.2,672.7 167.6,673.3 170.5,671.3 173.5,670.7 176.4,670.7 178.4,665.8 181.4,664.8 183.3,668.7 185.3,667.8 187.7,670.7 190.2,666.2 192.8,668.7 195.5,665.4 198.1,663.4 201.1,664.2 203.0,666.2 205.0,664.8 207.0,672.7 209.9,669.3 212.9,665.8 215.8,663.8 217.8,664.8 220.8,661.8 223.7,662.8 225.7,661.5 228.6,662.8 231.6,663.8 234.2,664.8 236.1,661.5 238.5,666.8 240.8,661.5 244.4,664.2 247.3,665.4 251.3,666.2 254.2,664.2 256.6,665.4 259.2,664.2 261.7,664.8 265.1,661.5 268.0,662.8 271.6,666.8 274.9,662.2 278.9,665.8 281.8,664.2 285.8,663.4 289.7,662.2 292.7,662.8 295.6,661.5 298.6,662.2 302.5,663.4 305.8,666.8 308.4,664.2 311.4,662.8 313.3,660.3 315.7,659.9 317.7,665.4 321.2,663.4 325.2,661.5"/>
<polyline clip-path="url(#cL4)" fill="none" stroke="#f9bf2a" stroke-width="1.6" stroke-linejoin="round" points="86.4,814.3 103.6,814.3 104.5,791.1 105.5,741.8 108.1,704.8 110.5,712.1 112.8,700.2 115.4,689.4 117.9,696.9 120.3,697.7 123.3,704.8 128.2,704.8 132.5,712.7 134.5,712.1 137.0,705.2 139.6,712.1 142.0,705.2 143.9,704.8 146.3,712.1 149.5,697.3 152.2,704.8 158.7,704.8 161.3,697.3 163.6,704.8 166.0,697.3 168.6,704.8 171.5,704.8 173.9,697.3 175.8,697.7 178.4,712.1 181.4,704.8 184.9,704.2 187.7,689.4 190.2,712.1 192.8,697.7 195.2,704.8 198.1,696.9 202.0,697.3 205.0,712.1 207.0,697.7 209.3,712.1 211.9,697.7 214.5,704.8 216.8,697.3 219.2,697.3 221.7,704.8 224.3,697.3 232.6,697.3 236.1,704.8 238.1,705.2 240.5,712.1 242.8,727.8 246.0,697.7 247.9,704.8 250.3,697.7 252.7,704.8 255.2,704.8 257.8,689.4 260.2,704.8 262.5,689.4 264.5,697.3 267.0,689.4 270.0,697.3 272.0,697.7 274.3,704.8 290.7,704.8 293.6,697.7 296.0,727.8 298.6,697.7 303.5,712.1 308.4,697.7 311.0,704.8 315.3,689.4 317.7,727.8 320.2,704.8 322.8,704.2 325.2,697.3"/>
<rect x="75.0" y="652.3" width="262.7" height="170.0" fill="none" stroke="#5a5a5a" stroke-width="1.6"/>
<text transform="translate(71.4,815.5) scale(1,1.1)" y="4.15" font-size="11.6" fill="#4a4a4a" stroke="#4a4a4a" stroke-width="0.2" text-anchor="end">0.80</text>
<text transform="translate(71.4,776.4) scale(1,1.1)" y="4.15" font-size="11.6" fill="#4a4a4a" stroke="#4a4a4a" stroke-width="0.2" text-anchor="end">0.85</text>
<text transform="translate(71.4,737.2) scale(1,1.1)" y="4.15" font-size="11.6" fill="#4a4a4a" stroke="#4a4a4a" stroke-width="0.2" text-anchor="end">0.90</text>
<text transform="translate(71.4,698.1) scale(1,1.1)" y="4.15" font-size="11.6" fill="#4a4a4a" stroke="#4a4a4a" stroke-width="0.2" text-anchor="end">0.95</text>
<text transform="translate(71.4,658.9) scale(1,1.1)" y="4.15" font-size="11.6" fill="#4a4a4a" stroke="#4a4a4a" stroke-width="0.2" text-anchor="end">1.00</text>
<text transform="translate(86.9,830.6) scale(1,1.1)" y="4.15" font-size="11.6" fill="#4a4a4a" stroke="#4a4a4a" stroke-width="0.2" text-anchor="middle">0</text>
<text transform="translate(135.2,830.6) scale(1,1.1)" y="4.15" font-size="11.6" fill="#4a4a4a" stroke="#4a4a4a" stroke-width="0.2" text-anchor="middle">20</text>
<text transform="translate(183.4,830.6) scale(1,1.1)" y="4.15" font-size="11.6" fill="#4a4a4a" stroke="#4a4a4a" stroke-width="0.2" text-anchor="middle">40</text>
<text transform="translate(231.7,830.6) scale(1,1.1)" y="4.15" font-size="11.6" fill="#4a4a4a" stroke="#4a4a4a" stroke-width="0.2" text-anchor="middle">60</text>
<text transform="translate(279.9,830.6) scale(1,1.1)" y="4.15" font-size="11.6" fill="#4a4a4a" stroke="#4a4a4a" stroke-width="0.2" text-anchor="middle">80</text>
<text transform="translate(328.2,830.6) scale(1,1.1)" y="4.15" font-size="11.6" fill="#4a4a4a" stroke="#4a4a4a" stroke-width="0.2" text-anchor="middle">100</text>
<text x="206.3" y="850.7" font-size="13.8" fill="#4a4a4a" stroke="#4a4a4a" stroke-width="0.12" text-anchor="middle">Epoch #</text>
<text transform="translate(41.5,738.3) rotate(-90)" font-size="13.8" fill="#4a4a4a" stroke="#4a4a4a" stroke-width="0.12" text-anchor="middle">accuracy</text>
<line x1="203.6" y1="790.3" x2="227.1" y2="790.3" stroke="#a9f54c" stroke-width="1.8"/>
<line x1="203.6" y1="806.8" x2="227.1" y2="806.8" stroke="#f9bf2a" stroke-width="1.8"/>
<text x="234.9" y="793.9" font-size="10.8" fill="#4a4a4a" stroke="#4a4a4a" stroke-width="0.12">training accuracy</text>
<text x="234.9" y="810.4" font-size="10.8" fill="#4a4a4a" stroke="#4a4a4a" stroke-width="0.12">validation accuracy</text>
<clipPath id="cR4"><rect x="394.7" y="656.8" width="260.90000000000003" height="168.20000000000005"/></clipPath>
<polyline clip-path="url(#cR4)" fill="none" stroke="#a9f54c" stroke-width="1.6" stroke-linejoin="round" points="405.8,663.9 411.2,719.0 414.7,722.9 418.6,729.8 422.2,739.7 423.6,745.0 426.5,760.6 429.5,770.4 432.4,779.3 435.4,782.3 438.3,787.2 441.3,792.1 444.2,792.5 446.6,792.1 449.2,795.1 452.1,800.0 456.1,802.9 461.0,804.9 464.9,805.5 467.9,804.9 470.8,807.9 474.8,809.4 477.7,810.8 480.7,810.2 483.2,811.8 486.6,808.3 489.5,810.8 492.5,809.4 496.4,812.2 501.4,811.8 506.3,811.8 509.2,813.8 512.2,812.2 517.1,814.8 521.1,813.4 525.0,812.8 528.0,810.0 530.9,812.0 533.9,814.0 537.2,813.6 539.8,815.0 542.7,814.0 545.7,815.0 549.6,814.0 552.6,814.4 554.5,815.5 556.5,813.0 559.5,814.4 563.4,814.4 568.3,813.0 572.3,814.4 575.8,813.6 578.2,815.0 581.1,814.0 584.1,815.9 589.0,815.0 593.0,815.9 597.9,815.0 603.8,815.0 608.7,816.3 611.7,815.5 614.6,816.9 619.5,815.9 624.5,814.4 628.4,815.5 632.3,817.5 636.3,814.4 639.2,815.0 643.2,815.9"/>
<polyline clip-path="url(#cR4)" fill="none" stroke="#f9bf2a" stroke-width="1.6" stroke-linejoin="round" points="405.8,673.7 410.8,719.0 414.7,723.9 418.6,731.8 421.6,745.0 424.5,760.6 427.5,777.3 430.5,786.2 434.4,792.1 439.3,793.7 444.2,794.1 449.2,793.7 454.1,792.5 460.0,791.1 464.9,788.2 468.9,789.2 473.8,788.6 477.7,787.8 482.7,788.2 485.6,789.7 489.5,785.8 492.5,788.6 496.4,784.2 499.0,786.6 503.3,785.2 506.3,790.1 508.8,785.2 511.2,789.2 514.2,783.2 517.1,788.6 521.1,789.7 523.4,781.9 525.0,787.2 528.0,781.5 530.5,788.0 532.9,783.4 535.8,788.7 538.4,788.7 540.8,786.4 544.7,787.4 548.6,789.9 551.6,788.7 554.5,785.4 557.5,785.4 559.5,787.4 561.4,774.2 564.4,787.4 566.8,785.4 569.3,788.3 573.3,784.0 575.8,790.3 578.2,784.4 581.1,791.3 584.1,789.3 586.1,791.3 590.0,789.9 592.4,783.4 594.9,785.4 597.9,783.4 599.8,786.4 602.8,784.0 605.8,785.4 609.7,785.4 611.7,789.9 614.0,775.5 616.6,789.9 618.6,787.4 621.5,780.9 623.5,784.4 626.4,789.9 628.4,783.4 630.4,786.4 633.3,792.7 635.7,775.5 638.8,786.4 641.2,786.0 643.2,788.0"/>
<rect x="394.7" y="656.8" width="260.9" height="168.2" fill="none" stroke="#5a5a5a" stroke-width="1.6"/>
<text transform="translate(391.1,820.9) scale(1,1.1)" y="4.15" font-size="11.6" fill="#4a4a4a" stroke="#4a4a4a" stroke-width="0.2" text-anchor="end">0.00</text>
<text transform="translate(391.1,788.4) scale(1,1.1)" y="4.15" font-size="11.6" fill="#4a4a4a" stroke="#4a4a4a" stroke-width="0.2" text-anchor="end">0.05</text>
<text transform="translate(391.1,755.9) scale(1,1.1)" y="4.15" font-size="11.6" fill="#4a4a4a" stroke="#4a4a4a" stroke-width="0.2" text-anchor="end">0.10</text>
<text transform="translate(391.1,723.4) scale(1,1.1)" y="4.15" font-size="11.6" fill="#4a4a4a" stroke="#4a4a4a" stroke-width="0.2" text-anchor="end">0.15</text>
<text transform="translate(391.1,690.9) scale(1,1.1)" y="4.15" font-size="11.6" fill="#4a4a4a" stroke="#4a4a4a" stroke-width="0.2" text-anchor="end">0.20</text>
<text transform="translate(391.1,658.4) scale(1,1.1)" y="4.15" font-size="11.6" fill="#4a4a4a" stroke="#4a4a4a" stroke-width="0.2" text-anchor="end">0.25</text>
<text transform="translate(406.6,833.3) scale(1,1.1)" y="4.15" font-size="11.6" fill="#4a4a4a" stroke="#4a4a4a" stroke-width="0.2" text-anchor="middle">0</text>
<text transform="translate(454.5,833.3) scale(1,1.1)" y="4.15" font-size="11.6" fill="#4a4a4a" stroke="#4a4a4a" stroke-width="0.2" text-anchor="middle">20</text>
<text transform="translate(502.4,833.3) scale(1,1.1)" y="4.15" font-size="11.6" fill="#4a4a4a" stroke="#4a4a4a" stroke-width="0.2" text-anchor="middle">40</text>
<text transform="translate(550.3,833.3) scale(1,1.1)" y="4.15" font-size="11.6" fill="#4a4a4a" stroke="#4a4a4a" stroke-width="0.2" text-anchor="middle">60</text>
<text transform="translate(598.2,833.3) scale(1,1.1)" y="4.15" font-size="11.6" fill="#4a4a4a" stroke="#4a4a4a" stroke-width="0.2" text-anchor="middle">80</text>
<text transform="translate(646.1,833.3) scale(1,1.1)" y="4.15" font-size="11.6" fill="#4a4a4a" stroke="#4a4a4a" stroke-width="0.2" text-anchor="middle">100</text>
<text x="525.1" y="853.4" font-size="13.8" fill="#4a4a4a" stroke="#4a4a4a" stroke-width="0.12" text-anchor="middle">Epoch #</text>
<text transform="translate(361.2,742.7) rotate(-90)" font-size="13.8" fill="#4a4a4a" stroke="#4a4a4a" stroke-width="0.12" text-anchor="middle">loss</text>
<line x1="403.5" y1="670.8" x2="426.5" y2="670.8" stroke="#a9f54c" stroke-width="1.8"/>
<line x1="403.5" y1="687.3" x2="426.5" y2="687.3" stroke="#f9bf2a" stroke-width="1.8"/>
<text x="435.2" y="674.4" font-size="10.8" fill="#4a4a4a" stroke="#4a4a4a" stroke-width="0.12">training loss</text>
<text x="435.2" y="690.9" font-size="10.8" fill="#4a4a4a" stroke="#4a4a4a" stroke-width="0.12">validation loss</text>
<clipPath id="cL5"><rect x="77.1" y="862.7" width="261.20000000000005" height="168.5999999999999"/></clipPath>
<polyline clip-path="url(#cL5)" fill="none" stroke="#a9f54c" stroke-width="1.6" stroke-linejoin="round" points="88.2,1023.1 90.4,1007.4 105.6,1007.4 107.5,1003.1 109.5,977.4 110.9,952.0 112.5,932.9 114.8,925.0 117.4,904.9 120.3,910.8 123.3,903.4 125.8,898.4 128.6,895.1 131.2,904.3 134.1,895.1 137.1,896.5 140.0,895.5 143.6,890.6 145.9,892.5 148.9,886.0 152.8,888.6 155.8,886.6 158.7,881.7 161.7,881.3 163.7,876.8 166.6,879.7 169.6,877.4 172.5,873.8 175.1,878.1 177.5,877.4 179.4,878.1 184.3,871.5 187.3,873.4 190.8,874.8 193.6,871.8 196.2,874.8 197.5,873.4 200.7,877.8 203.5,873.4 207.0,874.8 209.4,873.4 211.9,872.2 214.5,874.2 216.8,872.2 219.8,872.8 222.8,872.8 225.7,874.2 228.7,873.4 232.2,870.9 234.6,873.4 237.5,874.8 240.1,871.5 242.8,874.2 246.4,871.5 249.3,872.8 253.3,871.5 258.6,871.5 262.5,874.2 266.1,870.9 269.6,871.5 273.0,873.4 275.9,869.5 278.3,870.3 280.3,874.8 282.8,871.5 285.8,873.4 288.2,871.8 291.3,872.8 293.7,871.5 296.6,873.4 299.6,870.3 303.5,873.4 307.5,871.5 311.4,870.3 314.3,871.8 316.9,869.9 319.7,872.2 321.2,874.8 323.6,873.4 326.2,875.4"/>
<polyline clip-path="url(#cL5)" fill="none" stroke="#f9bf2a" stroke-width="1.6" stroke-linejoin="round" points="88.4,1007.4 105.6,1007.4 106.9,993.2 108.1,961.7 108.9,952.0 110.1,925.0 112.1,908.3 114.4,902.4 117.4,902.4 119.3,911.2 121.9,922.1 124.3,916.2 126.6,922.1 129.2,909.3 131.8,915.6 134.1,915.2 136.5,908.9 159.7,908.9 162.7,902.4 165.2,908.9 167.6,895.1 171.9,895.1 175.1,901.4 177.5,901.4 179.8,895.1 184.3,894.5 186.9,887.6 190.8,887.6 193.2,894.5 195.9,901.8 198.5,887.7 200.9,901.8 203.5,880.2 205.7,901.8 208.2,880.2 210.5,901.8 212.7,880.2 215.2,894.1 217.5,880.2 222.3,894.1 225.0,894.5 227.0,901.8 229.5,887.3 231.8,887.3 234.1,873.6 236.8,894.1 239.4,880.2 241.8,880.2 244.5,892.7 248.8,873.8 251.3,894.5 255.8,894.5 258.6,880.7 261.2,901.4 264.1,887.6 266.1,894.5 268.1,894.5 270.4,880.7 273.0,887.6 275.0,887.6 277.5,880.7 280.3,894.5 282.8,894.5 287.4,880.7 289.7,887.6 292.1,880.7 294.7,880.7 299.2,894.5 301.9,887.6 304.5,894.5 306.5,894.5 309.0,880.7 311.0,887.6 313.8,880.7 318.3,880.7 320.8,894.5 326.2,894.5"/>
<rect x="77.1" y="862.7" width="261.2" height="168.6" fill="none" stroke="#5a5a5a" stroke-width="1.6"/>
<text transform="translate(73.5,1008.6) scale(1,1.1)" y="4.15" font-size="11.6" fill="#4a4a4a" stroke="#4a4a4a" stroke-width="0.2" text-anchor="end">0.80</text>
<text transform="translate(73.5,973.2) scale(1,1.1)" y="4.15" font-size="11.6" fill="#4a4a4a" stroke="#4a4a4a" stroke-width="0.2" text-anchor="end">0.85</text>
<text transform="translate(73.5,937.9) scale(1,1.1)" y="4.15" font-size="11.6" fill="#4a4a4a" stroke="#4a4a4a" stroke-width="0.2" text-anchor="end">0.90</text>
<text transform="translate(73.5,902.5) scale(1,1.1)" y="4.15" font-size="11.6" fill="#4a4a4a" stroke="#4a4a4a" stroke-width="0.2" text-anchor="end">0.95</text>
<text transform="translate(73.5,867.1) scale(1,1.1)" y="4.15" font-size="11.6" fill="#4a4a4a" stroke="#4a4a4a" stroke-width="0.2" text-anchor="end">1.00</text>
<text transform="translate(89.0,1039.6) scale(1,1.1)" y="4.15" font-size="11.6" fill="#4a4a4a" stroke="#4a4a4a" stroke-width="0.2" text-anchor="middle">0</text>
<text transform="translate(136.9,1039.6) scale(1,1.1)" y="4.15" font-size="11.6" fill="#4a4a4a" stroke="#4a4a4a" stroke-width="0.2" text-anchor="middle">20</text>
<text transform="translate(184.9,1039.6) scale(1,1.1)" y="4.15" font-size="11.6" fill="#4a4a4a" stroke="#4a4a4a" stroke-width="0.2" text-anchor="middle">40</text>
<text transform="translate(232.9,1039.6) scale(1,1.1)" y="4.15" font-size="11.6" fill="#4a4a4a" stroke="#4a4a4a" stroke-width="0.2" text-anchor="middle">60</text>
<text transform="translate(280.9,1039.6) scale(1,1.1)" y="4.15" font-size="11.6" fill="#4a4a4a" stroke="#4a4a4a" stroke-width="0.2" text-anchor="middle">80</text>
<text transform="translate(328.8,1039.6) scale(1,1.1)" y="4.15" font-size="11.6" fill="#4a4a4a" stroke="#4a4a4a" stroke-width="0.2" text-anchor="middle">100</text>
<text x="207.7" y="1059.7" font-size="13.8" fill="#4a4a4a" stroke="#4a4a4a" stroke-width="0.12" text-anchor="middle">Epoch #</text>
<text transform="translate(43.6,948.0) rotate(-90)" font-size="13.8" fill="#4a4a4a" stroke="#4a4a4a" stroke-width="0.12" text-anchor="middle">accuracy</text>
<line x1="204.2" y1="999.3" x2="227.7" y2="999.3" stroke="#a9f54c" stroke-width="1.8"/>
<line x1="204.2" y1="1015.8" x2="227.7" y2="1015.8" stroke="#f9bf2a" stroke-width="1.8"/>
<text x="235.5" y="1002.9" font-size="10.8" fill="#4a4a4a" stroke="#4a4a4a" stroke-width="0.12">training accuracy</text>
<text x="235.5" y="1019.4" font-size="10.8" fill="#4a4a4a" stroke="#4a4a4a" stroke-width="0.12">validation accuracy</text>
<clipPath id="cR5"><rect x="395.6" y="864.4" width="259.4" height="166.5000000000001"/></clipPath>
<polyline clip-path="url(#cR5)" fill="none" stroke="#a9f54c" stroke-width="1.6" stroke-linejoin="round" points="406.8,871.3 412.2,925.0 415.7,930.0 420.6,937.8 423.6,947.7 425.2,953.0 428.5,968.6 432.4,982.4 435.4,991.2 439.3,994.6 443.3,998.1 446.8,1001.1 451.2,1003.1 455.1,1004.4 459.0,1007.0 463.0,1010.0 467.9,1012.3 471.8,1010.4 475.8,1013.5 478.7,1015.5 482.7,1014.9 485.6,1016.9 489.6,1018.2 493.5,1016.9 496.8,1017.4 500.4,1019.8 503.3,1020.8 507.3,1018.8 511.2,1020.2 515.2,1018.2 518.1,1016.9 520.5,1020.2 523.6,1017.8 526.0,1019.4 529.9,1019.8 533.5,1021.2 536.8,1020.2 540.8,1020.6 544.7,1019.8 548.7,1020.6 552.6,1020.2 556.5,1021.8 561.1,1019.2 564.4,1020.6 569.3,1021.2 573.3,1020.6 577.6,1019.8 581.2,1021.2 585.1,1021.2 589.4,1020.6 592.6,1022.5 596.5,1019.8 599.9,1021.2 604.8,1021.2 609.7,1021.2 613.7,1021.8 617.6,1020.6 621.5,1021.8 625.5,1021.2 629.4,1022.5 632.4,1023.1 635.3,1021.8 637.9,1020.2 640.2,1021.2 642.6,1019.8"/>
<polyline clip-path="url(#cR5)" fill="none" stroke="#f9bf2a" stroke-width="1.6" stroke-linejoin="round" points="407.4,880.7 411.8,925.6 415.7,930.9 420.6,941.8 423.2,953.0 425.5,966.6 429.5,982.4 433.4,991.2 436.4,993.8 441.3,994.6 446.8,995.2 451.2,996.2 455.1,997.7 460.0,996.6 465.9,998.1 470.5,1000.1 474.8,1001.7 477.7,1001.1 480.7,1004.1 483.7,1003.1 485.6,1006.0 488.6,1005.6 492.1,1007.0 494.5,1003.1 496.8,1009.6 499.4,1008.0 501.4,1007.6 504.7,1011.5 508.3,1011.5 511.2,1010.0 514.2,1006.4 516.2,1011.9 518.5,1003.7 521.1,1012.9 523.0,1007.0 526.0,1012.9 528.0,1000.9 530.3,1013.3 532.9,1011.3 534.9,1014.7 537.8,1013.3 541.4,1007.4 544.7,1002.8 547.7,1013.3 551.2,1016.2 554.0,1010.3 556.5,1015.3 559.5,1014.7 561.8,1012.7 565.4,1017.2 568.3,1011.3 571.3,1011.3 573.3,1009.3 575.6,1012.3 577.6,1004.0 580.2,1012.3 582.7,1006.4 585.1,1011.9 587.5,1015.8 590.0,1013.3 594.0,1012.7 596.5,1006.8 598.9,1004.8 601.8,1013.9 604.8,1014.3 607.7,1012.7 610.7,1012.3 612.7,1010.7 615.0,1012.3 617.6,1008.7 620.2,1008.7 622.9,1005.4 625.5,1012.3 628.4,1013.3 630.8,1015.8 633.3,1015.8 635.3,1013.9 637.3,1005.4 639.8,1011.9 642.6,1006.0"/>
<rect x="395.6" y="864.4" width="259.4" height="166.5" fill="none" stroke="#5a5a5a" stroke-width="1.6"/>
<text transform="translate(392.0,1027.3) scale(1,1.1)" y="4.15" font-size="11.6" fill="#4a4a4a" stroke="#4a4a4a" stroke-width="0.2" text-anchor="end">0.00</text>
<text transform="translate(392.0,995.2) scale(1,1.1)" y="4.15" font-size="11.6" fill="#4a4a4a" stroke="#4a4a4a" stroke-width="0.2" text-anchor="end">0.05</text>
<text transform="translate(392.0,963.0) scale(1,1.1)" y="4.15" font-size="11.6" fill="#4a4a4a" stroke="#4a4a4a" stroke-width="0.2" text-anchor="end">0.10</text>
<text transform="translate(392.0,930.9) scale(1,1.1)" y="4.15" font-size="11.6" fill="#4a4a4a" stroke="#4a4a4a" stroke-width="0.2" text-anchor="end">0.15</text>
<text transform="translate(392.0,898.7) scale(1,1.1)" y="4.15" font-size="11.6" fill="#4a4a4a" stroke="#4a4a4a" stroke-width="0.2" text-anchor="end">0.20</text>
<text transform="translate(392.0,866.6) scale(1,1.1)" y="4.15" font-size="11.6" fill="#4a4a4a" stroke="#4a4a4a" stroke-width="0.2" text-anchor="end">0.25</text>
<text transform="translate(407.4,1039.2) scale(1,1.1)" y="4.15" font-size="11.6" fill="#4a4a4a" stroke="#4a4a4a" stroke-width="0.2" text-anchor="middle">0</text>
<text transform="translate(455.0,1039.2) scale(1,1.1)" y="4.15" font-size="11.6" fill="#4a4a4a" stroke="#4a4a4a" stroke-width="0.2" text-anchor="middle">20</text>
<text transform="translate(502.7,1039.2) scale(1,1.1)" y="4.15" font-size="11.6" fill="#4a4a4a" stroke="#4a4a4a" stroke-width="0.2" text-anchor="middle">40</text>
<text transform="translate(550.3,1039.2) scale(1,1.1)" y="4.15" font-size="11.6" fill="#4a4a4a" stroke="#4a4a4a" stroke-width="0.2" text-anchor="middle">60</text>
<text transform="translate(598.0,1039.2) scale(1,1.1)" y="4.15" font-size="11.6" fill="#4a4a4a" stroke="#4a4a4a" stroke-width="0.2" text-anchor="middle">80</text>
<text transform="translate(645.6,1039.2) scale(1,1.1)" y="4.15" font-size="11.6" fill="#4a4a4a" stroke="#4a4a4a" stroke-width="0.2" text-anchor="middle">100</text>
<text x="525.3" y="1059.3" font-size="13.8" fill="#4a4a4a" stroke="#4a4a4a" stroke-width="0.12" text-anchor="middle">Epoch #</text>
<text transform="translate(362.1,949.5) rotate(-90)" font-size="13.8" fill="#4a4a4a" stroke="#4a4a4a" stroke-width="0.12" text-anchor="middle">loss</text>
<line x1="404.4" y1="878.4" x2="427.4" y2="878.4" stroke="#a9f54c" stroke-width="1.8"/>
<line x1="404.4" y1="894.9" x2="427.4" y2="894.9" stroke="#f9bf2a" stroke-width="1.8"/>
<text x="436.1" y="882.0" font-size="10.8" fill="#4a4a4a" stroke="#4a4a4a" stroke-width="0.12">training loss</text>
<text x="436.1" y="898.5" font-size="10.8" fill="#4a4a4a" stroke="#4a4a4a" stroke-width="0.12">validation loss</text>
</svg></body></html>
